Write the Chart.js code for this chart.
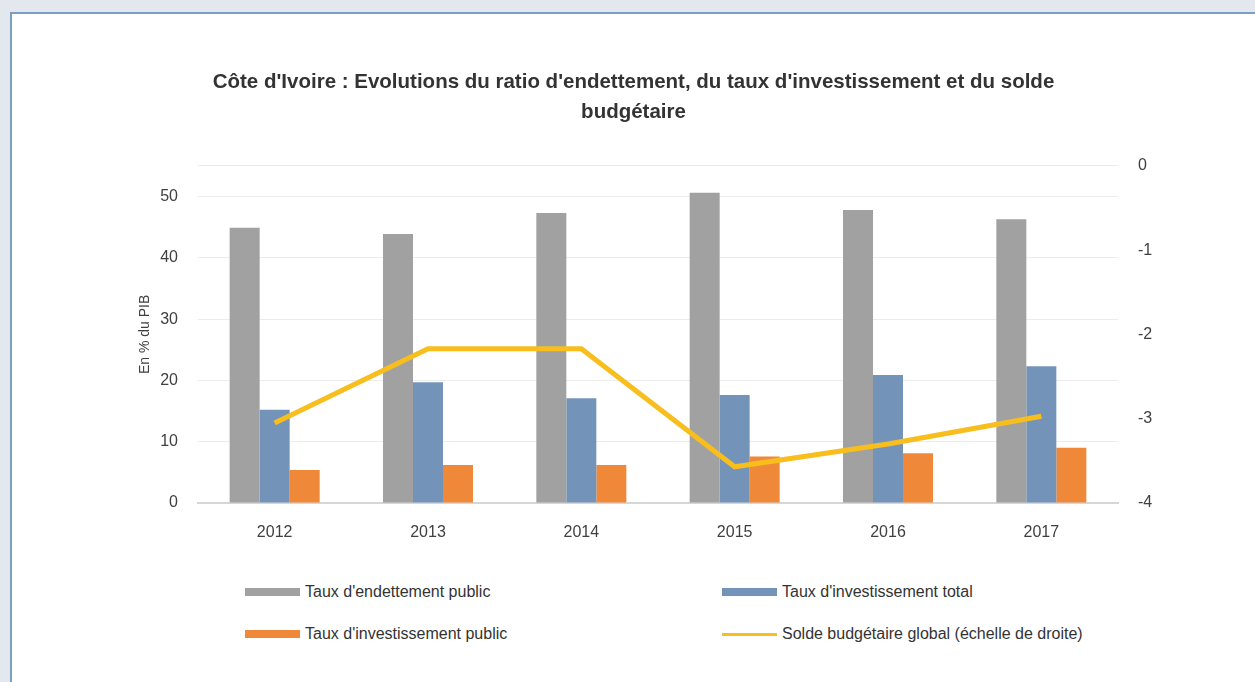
<!DOCTYPE html>
<html>
<head>
<meta charset="utf-8">
<script src="https://cdn.jsdelivr.net/npm/chart.js@4.4.0/dist/chart.umd.min.js"></script>
<style>
  html, body { margin: 0; padding: 0; }
  body { width: 1255px; height: 682px; background: #e3e8ef; overflow: hidden; position: relative; font-family: 'Liberation Sans', Arial, sans-serif; }
  #frame { position: absolute; left: 10px; top: 12px; width: 1243px; height: 668px; background: #fff; border-left: 2px solid #7f9cc5; border-top: 2px solid #7f9cc5; }
  #box { position: absolute; left: 0; top: 0; width: 1243px; height: 555px; }
  #legend div.item { position: absolute; display: flex; align-items: center; font-size: 16px; color: #333; white-space: nowrap; }
  #legend .sw { width: 55px; margin-right: 5px; }
</style>
</head>
<body>
<div id="frame">
  <div id="box"><canvas id="myChart"></canvas></div>
  <div id="legend"></div>
</div>
<script>
const years = ['2012', '2013', '2014', '2015', '2016', '2017'];
const endettement = [44.9, 43.9, 47.3, 50.6, 47.8, 46.3];
const investTotal = [15.2, 19.7, 17.1, 17.6, 20.9, 22.3];
const investPublic = [5.4, 6.2, 6.2, 7.6, 8.1, 9.0];
const solde = [-3.05, -2.17, -2.17, -3.57, -3.3, -2.97];

const seriesNames = [
  "Taux d'endettement public",
  "Taux d'investissement total",
  "Taux d'investissement public",
  "Solde budgétaire global (échelle de droite)"
];
const titleLines = [
  "Côte d'Ivoire : Evolutions du ratio d'endettement, du taux d'investissement et du solde",
  "budgétaire"
];

const colors = ['#a1a1a1', '#7393b8', '#f0883a', '#f7be1e'];
const tickFont = { family: "'Liberation Sans', Arial, sans-serif", size: 16 };

const bar = (label, data, color) => ({
  type: 'bar', label, data, backgroundColor: color, yAxisID: 'y', order: 1,
  categoryPercentage: 0.587, barPercentage: 1
});

const chart = new Chart('myChart', {
  data: {
    labels: years,
    datasets: [
      bar(seriesNames[0], endettement, colors[0]),
      bar(seriesNames[1], investTotal, colors[1]),
      bar(seriesNames[2], investPublic, colors[2]),
      {
        type: 'line', label: seriesNames[3], data: solde, yAxisID: 'y2', order: 0,
        borderColor: colors[3], borderWidth: 5, pointRadius: 0, tension: 0,
        borderJoinStyle: 'miter'
      }
    ]
  },
  options: {
    responsive: true,
    maintainAspectRatio: false,
    animation: false,
    layout: { padding: 0 },
    plugins: {
      legend: { display: false },
      tooltip: { enabled: false },
      title: {
        display: true,
        text: titleLines,
        color: '#333',
        font: { family: "'Liberation Sans', Arial, sans-serif", size: 20.5, weight: 'bold', lineHeight: 1.46 },
        padding: { top: 53, bottom: 39 }
      }
    },
    scales: {
      x: {
        grid: { display: false, drawTicks: false },
        border: { color: '#d6d6d6', width: 2 },
        ticks: { color: '#404040', font: tickFont, padding: 20 },
        afterFit: s => { s.height = 66; }
      },
      y: {
        position: 'left',
        min: 0, max: 55,
        grid: { color: '#ececec', drawTicks: false },
        border: { display: false },
        ticks: {
          stepSize: 10, color: '#404040', font: tickFont, padding: 20,
          callback: v => (v % 10 === 0 ? v : '')
        },
        title: {
          display: true, text: 'En % du PIB', color: '#404040',
          font: { family: "'Liberation Sans', Arial, sans-serif", size: 14 },
          padding: { top: 125, bottom: 0 }
        },
        afterFit: s => { s.width = 186; }
      },
      y2: {
        position: 'right',
        min: -4, max: 0,
        grid: { display: false, drawTicks: false },
        border: { display: false },
        ticks: { stepSize: 1, color: '#404040', font: tickFont, padding: 20 },
        afterFit: s => { s.width = 137; }
      }
    }
  }
});

// legend in two columns, built from the datasets
const legendPos = [[233, 578], [710, 578], [233, 620], [710, 620]];
chart.data.datasets.forEach((d, i) => {
  const item = document.createElement('div');
  item.className = 'item';
  item.style.left = legendPos[i][0] + 'px';
  item.style.top = (legendPos[i][1] - 10) + 'px';
  item.style.height = '20px';
  const h = d.type === 'line' ? 3 : 8;
  item.innerHTML = `<span class="sw" style="height:${h}px;background:${colors[i]}"></span><span>${d.label}</span>`;
  document.querySelector('#legend').appendChild(item);
});
</script>
</body>
</html>
